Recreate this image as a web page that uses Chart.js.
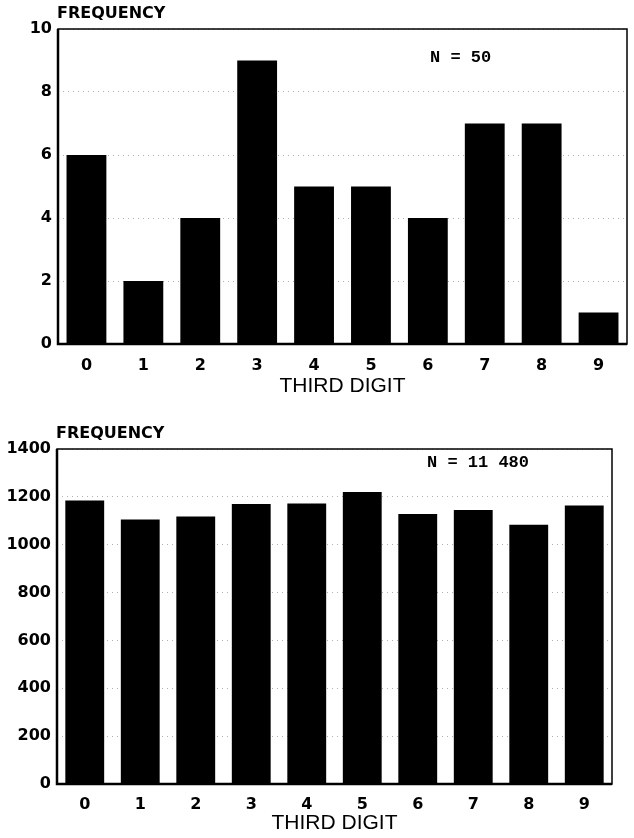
<!DOCTYPE html>
<html><head><meta charset="utf-8">
<script src="https://cdn.jsdelivr.net/npm/chart.js@4"></script>
<style>
html,body{margin:0;padding:0;background:#fff;}
body{width:634px;height:838px;position:relative;overflow:hidden;}
.wrap{position:absolute;left:0;width:634px;}
#w1{top:0;height:400px;}
#w2{top:400px;height:438px;}
</style></head><body>
<div class="wrap" id="w1"><canvas id="c1"></canvas></div>
<div class="wrap" id="w2"><canvas id="c2"></canvas></div>
<script>
const categories = ['0','1','2','3','4','5','6','7','8','9'];
const sample50 = [6, 2, 4, 9, 5, 5, 4, 7, 7, 1];
const sample11480 = [1185, 1105, 1118, 1170, 1172, 1220, 1128, 1145, 1083, 1164];
const yMaxTop = 10, yStepTop = 2;
const yMaxBottom = 1400, yStepBottom = 200;
const yAxisLabel = 'FREQUENCY';
const xAxisLabel = 'THIRD DIGIT';
const nTop = 'N = 50';
const nBottom = 'N = 11 480';

const tickFont = {family: '"DejaVu Sans", sans-serif', size: 16, weight: 'bold'};

function deco(nText, nX, nYOff) {
  return {
    id: 'deco',
    afterDraw(chart) {
      const {ctx, chartArea: a} = chart;
      ctx.save();
      ctx.strokeStyle = '#000';
      ctx.lineWidth = 1.5;
      ctx.strokeRect(a.left, a.top, a.right - a.left, a.bottom - a.top);
      ctx.lineWidth = 2.5;
      ctx.beginPath();
      ctx.moveTo(a.left, a.top);
      ctx.lineTo(a.left, a.bottom);
      ctx.lineTo(a.right, a.bottom);
      ctx.stroke();
      ctx.fillStyle = '#000';
      ctx.font = 'bold 16px "DejaVu Sans", sans-serif';
      ctx.textBaseline = 'middle';
      ctx.textAlign = 'left';
      ctx.fillText(yAxisLabel, a.left - 1, a.top - 15);
      ctx.font = 'bold 17px "Liberation Mono", monospace';
      ctx.fillText(nText, nX, a.top + nYOff);
      ctx.restore();
    }
  };
}

function makeChart(id, values, yMax, yStep, padTop, padRight, yW, xH, tickPad, titlePadB, nText, nX, nYOff) {
  return new Chart(document.getElementById(id), {
    type: 'bar',
    data: {
      labels: categories,
      datasets: [{
        data: values,
        backgroundColor: '#000',
        borderWidth: 0,
        barPercentage: 0.7,
        categoryPercentage: 1.0
      }]
    },
    options: {
      responsive: true,
      maintainAspectRatio: false,
      animation: false,
      layout: {padding: {top: padTop, right: padRight, left: 0, bottom: 0}},
      plugins: {legend: {display: false}, tooltip: {enabled: false}},
      scales: {
        x: {
          grid: {display: false, drawTicks: false},
          border: {display: false},
          ticks: {color: '#000', font: tickFont, padding: tickPad},
          title: {display: true, text: xAxisLabel, color: '#000',
                  font: {family: '"Liberation Sans", Arial, sans-serif', size: 21},
                  padding: {top: 0, bottom: titlePadB}},
          afterFit(s) { s.height = xH; }
        },
        y: {
          min: 0, max: yMax,
          grid: {color: '#b0b0b0', lineWidth: 1, drawTicks: false},
          border: {display: false, dash: [1, 4]},
          ticks: {stepSize: yStep, color: '#000', font: tickFont, padding: 6,
                  callback: (v) => String(v)},
          afterFit(s) { s.width = yW; }
        }
      }
    },
    plugins: [deco(nText, nX, nYOff)]
  });
}

makeChart('c1', sample50, yMaxTop, yStepTop, 29, 7, 58, 56, 12, 1, nTop, 430, 29);
makeChart('c2', sample11480, yMaxBottom, yStepBottom, 49, 22, 57, 54, 11, 2, nBottom, 427, 14);
</script>
</body></html>
